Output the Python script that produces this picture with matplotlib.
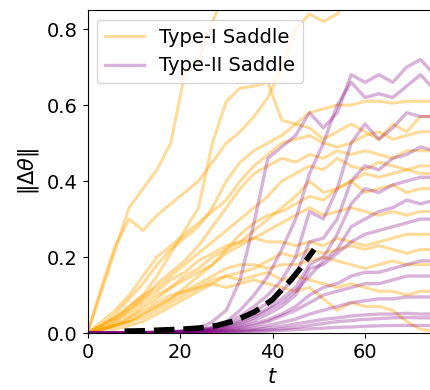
import matplotlib
matplotlib.use('Agg')
import matplotlib.pyplot as plt

# sample times for every trajectory
t = list(range(0, 76, 3))

# Type-I saddle trajectories (escape early)
type1 = [
    [0, .11, .22, .33, .38, .43, .50, .68, .72, .82, .90, .95, 1.0, 1.0, 1.0, 1.0, 1.0, 1.0, 1.0, 1.0, 1.0, 1.0, 1.0, 1.0, 1.0, 1.0],
    [0, .12, .23, .30, .27, .31, .34, .37, .40, .45, .50, .53, .57, .62, .70, .80, .84, .82, .84, .90, .95, 1.0, 1.0, 1.0, 1.0, 1.0],
    [0, .02, .04, .07, .10, .15, .21, .27, .33, .50, .61, .645, .65, .66, .56, .55, .58, .59, .60, .60, .61, .61, .605, .61, .61, .61],
    [0, .02, .05, .09, .13, .18, .22, .25, .28, .33, .40, .45, .48, .50, .52, .55, .54, .51, .53, .55, .53, .51, .55, .53, .57, .57],
    [0, .03, .06, .10, .15, .20, .23, .26, .29, .32, .35, .40, .44, .47, .50, .51, .52, .50, .49, .50, .52, .53, .51, .52, .53, .53],
    [0, .01, .03, .06, .09, .13, .16, .19, .23, .28, .33, .38, .42, .44, .46, .45, .47, .46, .48, .47, .48, .47, .46, .48, .48, .48],
    [0, .02, .04, .07, .10, .12, .15, .18, .21, .24, .27, .30, .33, .36, .40, .42, .44, .43, .46, .44, .43, .45, .44, .43, .44, .44],
    [0, .01, .02, .03, .05, .07, .09, .12, .15, .18, .22, .26, .29, .31, .32, .34, .36, .35, .38, .40, .42, .41, .42, .43, .42, .42],
    [0, .01, .02, .04, .07, .09, .12, .15, .17, .20, .22, .24, .27, .30, .33, .36, .40, .37, .38, .40, .37, .38, .39, .37, .38, .38],
    [0, .01, .03, .05, .08, .10, .12, .14, .16, .18, .21, .23, .25, .27, .29, .31, .33, .31, .32, .33, .32, .31, .32, .31, .32, .32],
    [0, .02, .04, .06, .09, .11, .14, .16, .19, .21, .23, .24, .25, .24, .24, .23, .24, .23, .25, .24, .23, .24, .25, .26, .26, .26],
    [0, .01, .01, .02, .03, .05, .07, .09, .11, .13, .15, .16, .17, .19, .21, .20, .22, .21, .22, .23, .22, .23, .22, .21, .22, .22],
    [0, .01, .02, .03, .05, .07, .09, .11, .13, .15, .17, .18, .18, .17, .18, .18, .19, .20, .19, .18, .17, .18, .19, .18, .18, .18],
    [0, .01, .02, .03, .04, .06, .08, .10, .12, .14, .15, .14, .15, .16, .14, .15, .14, .13, .12, .13, .12, .11, .11, .10, .11, .11],
    [0, .01, .02, .04, .06, .08, .10, .11, .12, .13, .12, .13, .14, .13, .12, .11, .12, .09, .06, .08, .07, .07, .06, .03, .01, .005],
]

# Type-II saddle trajectories (stay near zero, then grow)
type2 = [
    [0, 0, 0, .001, .002, .003, .004, .006, .01, .03, .06, .14, .29, .46, .49, .52, .58, .54, .58, .68, .66, .68, .66, .70, .72, .68],
    [0, 0, 0, 0, .001, .002, .003, .005, .008, .015, .03, .06, .10, .15, .22, .30, .42, .50, .60, .66, .62, .63, .62, .65, .68, .64],
    [0, 0, 0, 0, .001, .002, .003, .005, .008, .014, .025, .045, .07, .10, .14, .20, .32, .30, .38, .50, .55, .51, .54, .58, .57, .57],
    [0, 0, 0, 0, 0, .001, .002, .004, .007, .012, .02, .035, .055, .08, .11, .15, .24, .25, .30, .40, .44, .43, .46, .47, .49, .48],
    [0, 0, 0, 0, 0, .001, .002, .004, .006, .01, .018, .03, .045, .065, .09, .12, .18, .20, .26, .34, .38, .37, .39, .40, .41, .41],
    [0, 0, 0, 0, 0, .001, .002, .003, .005, .009, .015, .025, .04, .06, .08, .11, .15, .19, .22, .28, .30, .32, .33, .35, .34, .35],
    [0, 0, 0, 0, 0, .001, .002, .003, .005, .008, .013, .02, .033, .05, .07, .10, .17, .18, .21, .24, .26, .27, .28, .29, .30, .30],
    [0, 0, 0, 0, 0, .001, .002, .003, .004, .006, .01, .016, .025, .035, .05, .07, .10, .12, .13, .15, .16, .16, .17, .18, .19, .19],
    [0, 0, 0, 0, 0, 0, .001, .002, .003, .005, .008, .013, .02, .03, .045, .06, .08, .10, .11, .12, .13, .13, .14, .15, .15, .15],
    [0, 0, 0, 0, 0, 0, .001, .002, .003, .004, .006, .009, .013, .02, .028, .037, .05, .06, .07, .08, .085, .09, .09, .095, .095, .095],
    [0, 0, 0, 0, 0, 0, 0, .001, .002, .003, .004, .006, .009, .013, .018, .024, .03, .036, .04, .045, .048, .05, .05, .052, .05, .05],
    [0, 0, 0, 0, 0, 0, 0, .001, .001, .002, .003, .004, .006, .008, .011, .015, .02, .025, .03, .033, .036, .038, .04, .041, .04, .04],
    [0, 0, 0, 0, 0, 0, 0, 0, .001, .001, .002, .003, .004, .005, .007, .009, .011, .013, .015, .016, .018, .019, .02, .02, .02, .02],
]

# prediction curve (dashed)
pred_t = [8, 12, 16, 20, 24, 28, 32, 36, 40, 44, 46, 49]
pred_v = [0.005, 0.006, 0.008, 0.01, 0.013, 0.02, 0.033, 0.055, 0.088, 0.14, 0.17, 0.22]

fig = plt.figure(figsize=(4.3, 3.9), dpi=100)
ax = fig.add_axes([0.2035, 0.146, 0.8605, 0.828])

for i, y in enumerate(type1):
    ax.plot(t, y, color='orange', alpha=0.4, lw=2.2, label='Type-I Saddle' if i == 0 else None)
for i, y in enumerate(type2):
    ax.plot(t, y, color='purple', alpha=0.3, lw=2.4, label='Type-II Saddle' if i == 0 else None)

ax.plot(pred_t, pred_v, color='black', ls='--', lw=4)

ax.set_xlim(0, 80)
ax.set_ylim(0, 0.85)
ax.set_xticks([0, 20, 40, 60])
ax.set_yticks([0.0, 0.2, 0.4, 0.6, 0.8])
ax.tick_params(labelsize=14)
ax.set_xlabel('$t$', fontsize=15)
ax.set_ylabel(r'$\|\Delta\theta\|$', fontsize=15)
ax.legend(loc='upper left', fontsize=14)

fig.savefig('out.png', dpi=100)
